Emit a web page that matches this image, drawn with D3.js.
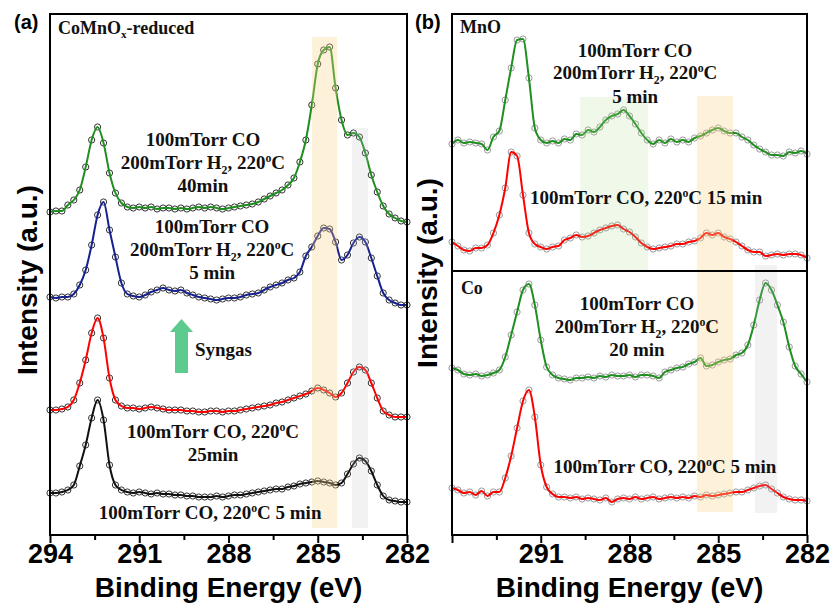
<!DOCTYPE html>
<html>
<head>
<meta charset="utf-8">
<script src="https://cdn.jsdelivr.net/npm/d3@7"></script>
<style>
  body { margin: 0; background: #fff; }
  svg { display: block; }
</style>
</head>
<body>
<svg id="chart" width="834" height="607"></svg>
<script>
// binding energy grid (eV), shared by every spectrum
const energy = [294.0, 293.8, 293.6, 293.4, 293.2, 293.0, 292.8, 292.6, 292.4, 292.2,
  292.0, 291.8, 291.6, 291.4, 291.2, 291.0, 290.8, 290.6, 290.4, 290.2,
  290.0, 289.8, 289.6, 289.4, 289.2, 289.0, 288.8, 288.6, 288.4, 288.2,
  288.0, 287.8, 287.6, 287.4, 287.2, 287.0, 286.8, 286.6, 286.4, 286.2,
  286.0, 285.8, 285.6, 285.4, 285.2, 285.0, 284.8, 284.6, 284.4, 284.2,
  284.0, 283.8, 283.6, 283.4, 283.2, 283.0, 282.8, 282.6, 282.4, 282.2, 282.0];

// (a) CoMnOx-reduced, stacked intensities (a.u.)
const aBlack = [8.4, 8.4, 8.6, 9.0, 10.0, 13.8, 18.0, 23.4, 27.0, 23.0,
  14.0, 10.0, 9.0, 8.6, 8.4, 8.6, 8.4, 8.2, 8.4, 8.2,
  8.2, 8.0, 8.0, 7.8, 7.8, 7.6, 7.6, 7.6, 7.8, 7.6,
  7.8, 8.0, 8.0, 8.2, 8.4, 8.6, 8.8, 9.0, 9.2, 9.2,
  9.6, 9.8, 10.2, 10.4, 10.6, 10.8, 10.6, 10.4, 10.0, 10.4,
  12.2, 14.2, 15.4, 14.8, 12.8, 10.0, 7.8, 7.0, 6.8, 6.6, 6.6];
const aRed = [25.0, 25.0, 25.2, 25.6, 27.0, 30.4, 35.0, 40.4, 43.4, 39.4,
  31.4, 27.0, 25.8, 25.4, 25.4, 25.2, 25.4, 25.6, 25.4, 25.2,
  25.0, 25.0, 25.0, 24.8, 24.8, 24.6, 24.6, 24.8, 24.8, 24.6,
  24.8, 24.8, 25.0, 25.2, 25.4, 25.6, 25.8, 26.0, 26.4, 26.6,
  27.0, 27.4, 27.8, 28.2, 28.8, 29.4, 29.0, 28.4, 27.6, 28.4,
  30.4, 32.6, 33.6, 33.0, 30.4, 27.4, 24.8, 24.0, 23.6, 23.6, 23.6];
const aBlue = [47.6, 47.4, 47.6, 47.6, 48.2, 50.0, 53.0, 58.0, 64.0, 66.6,
  61.0, 55.6, 50.4, 48.2, 47.8, 47.6, 48.0, 48.6, 49.0, 49.4,
  49.0, 48.8, 49.0, 48.4, 48.0, 47.6, 47.4, 47.2, 47.0, 47.2,
  47.4, 47.4, 47.6, 48.0, 48.2, 48.4, 49.0, 49.6, 50.0, 50.4,
  51.0, 51.4, 52.6, 55.8, 57.6, 59.8, 61.4, 61.2, 58.6, 55.0,
  56.0, 58.4, 59.6, 58.6, 55.4, 51.8, 48.4, 47.0, 46.4, 46.0, 46.0];
const aGreen = [64.6, 64.8, 64.8, 66.0, 67.0, 69.0, 73.6, 79.0, 81.6, 78.4,
  72.4, 68.4, 66.4, 65.6, 65.4, 65.6, 65.4, 65.6, 65.2, 65.4,
  65.4, 65.2, 65.4, 65.2, 65.4, 65.6, 65.4, 65.6, 65.4, 65.2,
  65.4, 65.6, 65.8, 66.0, 66.2, 66.6, 67.2, 67.8, 68.4, 69.0,
  70.0, 71.4, 74.6, 79.0, 86.0, 94.2, 97.0, 97.6, 89.4, 83.0,
  80.0, 80.4, 79.6, 76.4, 72.0, 68.6, 65.8, 64.2, 63.4, 62.8, 62.6];

// (b) MnO reference
const mnoRed = [5.8, 5.0, 4.2, 4.0, 4.6, 4.6, 5.2, 7.6, 11.2, 16.6,
  23.8, 23.0, 15.2, 7.6, 5.4, 4.8, 4.4, 4.8, 5.0, 6.2,
  6.6, 7.2, 6.8, 7.0, 7.6, 8.2, 8.6, 9.0, 9.2, 8.4,
  7.8, 6.8, 5.6, 4.8, 4.4, 4.6, 4.8, 5.0, 5.4, 5.4,
  5.8, 6.0, 6.6, 7.6, 7.2, 7.6, 6.8, 6.4, 5.8, 5.0,
  4.2, 3.8, 3.8, 3.0, 3.2, 3.4, 3.2, 3.4, 3.4, 3.2, 2.6];
const mnoGreen = [25.4, 26.2, 25.6, 25.8, 25.6, 25.4, 24.2, 26.8, 28.0, 34.2,
  40.6, 46.2, 46.4, 38.6, 28.6, 26.2, 25.6, 26.0, 25.6, 26.4,
  26.2, 27.4, 27.2, 28.2, 27.8, 28.8, 30.2, 31.0, 31.4, 32.2,
  31.0, 29.4, 27.6, 26.2, 25.4, 26.2, 25.6, 26.4, 25.8, 26.2,
  25.8, 26.6, 27.0, 27.6, 28.2, 28.6, 28.0, 27.6, 27.6, 26.8,
  26.2, 25.2, 24.4, 23.8, 23.2, 23.2, 23.0, 23.8, 23.6, 24.0, 23.4];

// (b) Co reference
const coRed = [9.2, 8.8, 8.2, 8.4, 7.8, 8.6, 7.6, 8.4, 8.4, 11.2,
  15.6, 21.2, 26.6, 28.8, 23.4, 13.8, 9.4, 8.0, 7.4, 7.4,
  7.2, 7.4, 7.0, 7.2, 7.0, 6.8, 7.2, 6.4, 7.0, 7.2,
  7.0, 7.4, 7.0, 7.2, 7.4, 7.0, 7.2, 7.4, 7.2, 7.4,
  7.2, 7.6, 7.4, 7.8, 7.6, 7.8, 8.0, 8.2, 8.4, 8.4,
  8.8, 9.2, 9.6, 9.8, 9.0, 8.2, 7.4, 7.0, 6.8, 6.8, 6.6];
const coGreen = [33.2, 32.8, 32.0, 31.8, 32.0, 31.6, 31.8, 32.2, 32.8, 35.4,
  39.8, 44.4, 48.8, 50.0, 45.8, 38.8, 33.4, 31.8, 31.2, 31.0,
  30.8, 31.2, 31.2, 31.4, 31.2, 31.6, 31.4, 31.8, 31.6, 31.6,
  31.8, 31.4, 31.8, 31.8, 31.6, 31.2, 32.4, 32.8, 33.2, 33.4,
  34.0, 34.4, 35.2, 33.6, 33.8, 34.4, 34.8, 35.0, 35.8, 36.2,
  37.8, 41.8, 46.8, 50.2, 48.8, 45.8, 42.4, 37.4, 33.6, 32.0, 30.4];

// x axis ticks
const majorTicks = [294, 291, 288, 285, 282];
const minorTicks = [292.5, 289.5, 286.5, 283.5];

// highlighted energy windows [from, to] (eV)
const bandC = [285.19, 284.35];
const bandCo = [283.85, 283.31];
const bandMnO = [289.67, 287.37];
const bandCb = [285.72, 284.50];
const bandCob = [283.76, 283.01];

const SANS = "'Liberation Sans', Arial, Helvetica, sans-serif";
const SERIF = "'Liberation Serif', 'Times New Roman', Times, serif";

const svg = d3.select("#chart");

// panel geometry
const frameTop = 14, frameBottom = 535, frameMid = 271;
const xA = d3.scaleLinear().domain([294, 282]).range([50, 407]);
const xB = d3.scaleLinear().domain([294, 282]).range([452, 807]);
const yA = d3.scaleLinear().domain([0, 104.2]).range([frameBottom, frameTop]);
const yB1 = d3.scaleLinear().domain([0, 51.4]).range([frameMid, frameTop]);
const yB2 = d3.scaleLinear().domain([0, 52.6]).range([534, frameMid]);

const COL = { green: "#1f8f1f", blue: "#16208f", red: "#ff0000", black: "#111111" };

function drawSpectrum(g, x, y, values, color, ring) {
  const pts = energy.map((e, i) => [e, values[i]]);
  g.append("g").selectAll("circle")
    .data(pts)
    .enter()
    .append("circle")
    .attr("cx", d => x(d[0]))
    .attr("cy", d => y(d[1]))
    .attr("r", 3.1)
    .attr("fill", "none")
    .attr("stroke", ring)
    .attr("stroke-width", 1);
  const line = d3.line()
    .x(d => x(d[0]))
    .y(d => y(d[1]))
    .curve(d3.curveMonotoneX);
  g.append("path")
    .datum(pts)
    .attr("d", line)
    .attr("fill", "none")
    .attr("stroke", color)
    .attr("stroke-width", 2)
    .attr("stroke-linejoin", "round");
}

function drawBand(g, x, y, range, vLow, vHigh, fill) {
  g.append("rect")
    .attr("x", x(range[0]))
    .attr("width", x(range[1]) - x(range[0]))
    .attr("y", y(vHigh))
    .attr("height", y(vLow) - y(vHigh))
    .attr("fill", fill);
}

// text with ^x superscripts and _x subscripts
function richText(g, px, py, str, size, anchor) {
  const t = g.append("text")
    .attr("x", px).attr("y", py)
    .attr("text-anchor", anchor || "middle")
    .attr("font-family", SERIF)
    .attr("font-weight", "bold")
    .attr("font-size", size)
    .attr("fill", "#111");
  const parts = str.split(/(\^.|_.)/).filter(s => s !== "");
  let shift = 0;
  parts.forEach(p => {
    let dy = 0, fs = size, txt = p;
    if (p.length === 2 && p[0] === "^") { txt = p[1]; fs = size * 0.62; dy = -size * 0.38; }
    else if (p.length === 2 && p[0] === "_") { txt = p[1]; fs = size * 0.62; dy = size * 0.24; }
    const s = t.append("tspan").attr("font-size", fs).text(txt);
    if (dy - shift !== 0) s.attr("dy", dy - shift);
    shift = dy;
  });
  return t;
}

function drawXAxis(x, hideFirst) {
  const major = d3.axisBottom(x)
    .tickValues(majorTicks)
    .tickSize(8)
    .tickPadding(1)
    .tickFormat(d => (hideFirst && d === 294) ? "" : d3.format("d")(d));
  const gMaj = svg.append("g")
    .attr("transform", `translate(0,${frameBottom})`)
    .call(major);
  gMaj.select(".domain").remove();
  gMaj.selectAll("line").attr("stroke", "#000").attr("stroke-width", 2);
  gMaj.selectAll("text")
    .attr("font-family", SANS)
    .attr("font-weight", "bold")
    .attr("font-size", 27)
    .attr("fill", "#000");

  const minor = d3.axisBottom(x).tickValues(minorTicks).tickSize(5).tickFormat("");
  const gMin = svg.append("g")
    .attr("transform", `translate(0,${frameBottom})`)
    .call(minor);
  gMin.select(".domain").remove();
  gMin.selectAll("line").attr("stroke", "#000").attr("stroke-width", 2);

  svg.append("text")
    .attr("x", (x.range()[0] + x.range()[1]) / 2)
    .attr("y", 597)
    .attr("text-anchor", "middle")
    .attr("font-family", SANS)
    .attr("font-weight", "bold")
    .attr("font-size", 28)
    .text("Binding Energy (eV)");
}

function yTitle(px, py) {
  svg.append("text")
    .attr("transform", `translate(${px},${py}) rotate(-90)`)
    .attr("text-anchor", "middle")
    .attr("font-family", SANS)
    .attr("font-weight", "bold")
    .attr("font-size", 28)
    .text("Intensity (a.u.)");
}

// ---------- panel (a) ----------
const gA = svg.append("g");
drawSpectrum(gA, xA, yA, aBlack, COL.black, "#333");
drawSpectrum(gA, xA, yA, aRed, COL.red, "#333");
drawSpectrum(gA, xA, yA, aBlue, COL.blue, "#333");
drawSpectrum(gA, xA, yA, aGreen, COL.green, "#333");
drawBand(gA, xA, yA, bandC, 1.4, 99.6, "rgba(248,212,138,0.32)");
drawBand(gA, xA, yA, bandCo, 1.4, 81.4, "rgba(190,190,196,0.2)");

gA.append("rect")
  .attr("x", 50).attr("y", frameTop)
  .attr("width", 357).attr("height", frameBottom - frameTop)
  .attr("fill", "none").attr("stroke", "#000").attr("stroke-width", 2);

richText(gA, xA(293.73), yA(100.2), "CoMnO_x-reduced", 18, "start");
richText(gA, xA(288.86), yA(77.8), "100mTorr CO", 19);
richText(gA, xA(288.86), yA(73.2), "200mTorr H_2, 220^oC", 19);
richText(gA, xA(288.86), yA(68.6), "40min", 19);
richText(gA, xA(288.55), yA(60.4), "100mTorr CO", 19);
richText(gA, xA(288.55), yA(55.8), "200mTorr H_2, 220^oC", 19);
richText(gA, xA(288.55), yA(51.2), "5 min", 19);
richText(gA, xA(288.52), yA(19.4), "100mTorr CO, 220^oC", 19);
richText(gA, xA(288.52), yA(14.8), "25min", 19);
richText(gA, xA(288.62), yA(3.2), "100mTorr CO, 220^oC 5 min", 19);
richText(gA, xA(289.13), yA(35.8), "Syngas", 19, "start");

// syngas arrow
const ax = xA(289.58), aTop = yA(43.2), aHead = yA(40.6), aBot = yA(32.4);
gA.append("path")
  .attr("d", `M${ax - 6.5},${aBot} L${ax - 6.5},${aHead} L${ax - 11.5},${aHead} L${ax},${aTop} ` +
             `L${ax + 11.5},${aHead} L${ax + 6.5},${aHead} L${ax + 6.5},${aBot} Z`)
  .attr("fill", "#5ccb8d");

svg.append("text")
  .attr("x", 14).attr("y", 29)
  .attr("font-family", SANS).attr("font-weight", "bold").attr("font-size", 20)
  .text("(a)");
drawXAxis(xA, false);
yTitle(37, 280);

// ---------- panel (b) ----------
const gB = svg.append("g");
drawSpectrum(gB, xB, yB1, mnoRed, COL.red, "#9a9a9a");
drawSpectrum(gB, xB, yB1, mnoGreen, COL.green, "#9a9a9a");
drawSpectrum(gB, xB, yB2, coRed, COL.red, "#9a9a9a");
drawSpectrum(gB, xB, yB2, coGreen, COL.green, "#9a9a9a");
drawBand(gB, xB, yB1, bandMnO, 0, 34.8, "rgba(180,220,150,0.2)");
drawBand(gB, xB, yB1, bandCb, 0, 35.0, "rgba(248,212,138,0.32)");
drawBand(gB, xB, yB2, bandCb, 4.4, 52.6, "rgba(248,212,138,0.32)");
drawBand(gB, xB, yB2, bandCob, 4.2, 53.8, "rgba(190,190,196,0.2)");

gB.append("rect")
  .attr("x", 452).attr("y", frameTop)
  .attr("width", 355).attr("height", frameBottom - frameTop)
  .attr("fill", "none").attr("stroke", "#000").attr("stroke-width", 2);
gB.append("line")
  .attr("x1", 452).attr("x2", 807)
  .attr("y1", frameMid).attr("y2", frameMid)
  .attr("stroke", "#000").attr("stroke-width", 2);

richText(gB, xB(293.73), yB1(47.6), "MnO", 18, "start");
richText(gB, xB(287.81), yB1(42.8), "100mTorr CO", 19);
richText(gB, xB(287.81), yB1(38.4), "200mTorr H_2, 220^oC", 19);
richText(gB, xB(287.81), yB1(33.6), "5 min", 19);
richText(gB, xB(287.44), yB1(13.4), "100mTorr CO, 220^oC 15 min", 19);
richText(gB, xB(293.7), yB2(48.0), "Co", 18, "start");
richText(gB, xB(287.75), yB2(44.8), "100mTorr CO", 19);
richText(gB, xB(287.75), yB2(40.2), "200mTorr H_2, 220^oC", 19);
richText(gB, xB(287.75), yB2(35.6), "20 min", 19);
richText(gB, xB(286.8), yB2(12.2), "100mTorr CO, 220^oC 5 min", 19);

svg.append("text")
  .attr("x", 415).attr("y", 29)
  .attr("font-family", SANS).attr("font-weight", "bold").attr("font-size", 20)
  .text("(b)");
drawXAxis(xB, true);
yTitle(437, 273);
</script>
</body>
</html>
